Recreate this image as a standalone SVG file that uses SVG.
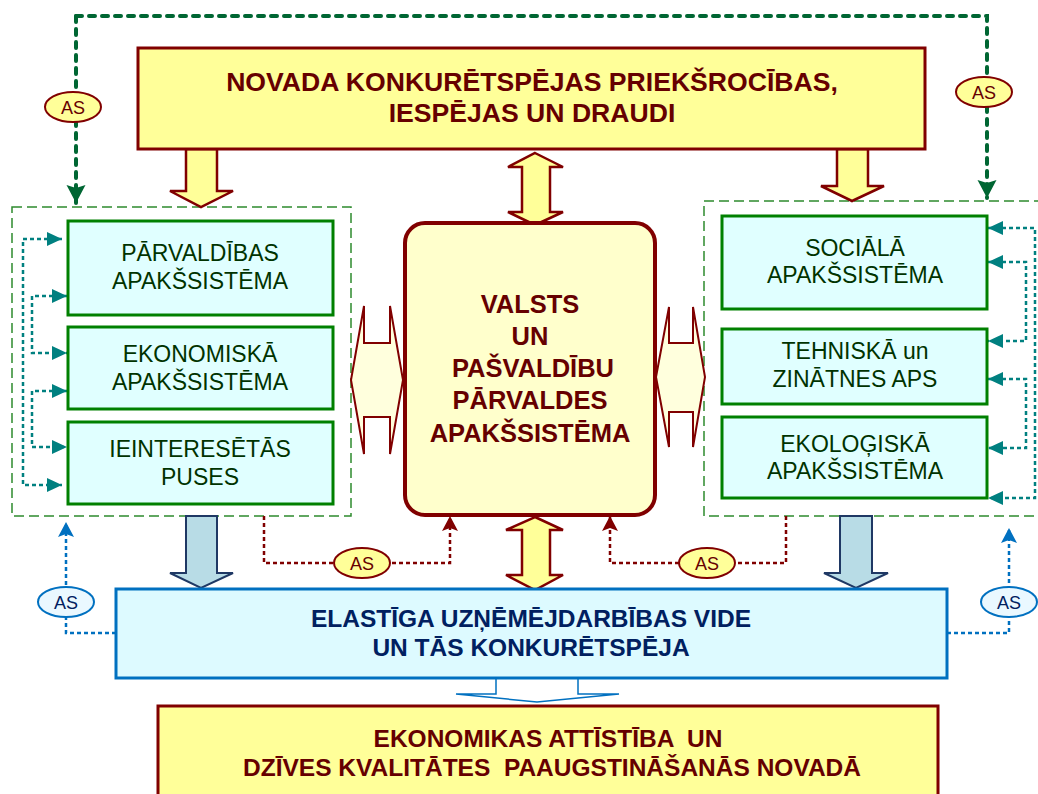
<svg xmlns="http://www.w3.org/2000/svg" width="1038" height="794" viewBox="0 0 1038 794">
<defs>
<style>
text{font-family:"Liberation Sans",Arial,sans-serif;text-anchor:middle;white-space:pre}
.ty{fill:#FFFF99;stroke:#800000;stroke-width:3}
.tt{font-weight:bold;font-size:26.6px;fill:#660000}
.tc{font-weight:bold;font-size:25.5px;fill:#660000}
.tb{font-weight:bold;font-size:24.5px;fill:#002060}
.tbot{font-weight:bold;font-size:24.5px;fill:#660000}
.sub{fill:#E0FFFF;stroke:#008000;stroke-width:3}
.ts{font-size:23px;fill:#003300}
.cont{fill:none;stroke:#2E8B2E;stroke-width:1.5;stroke-dasharray:10,5}
.dy{fill:#FFFF99;stroke:#800000;stroke-width:2.5}
.hz{fill:#FFFFDD;stroke:#800000;stroke-width:2}
.bl{fill:#B8DCE6;stroke:#1F3864;stroke-width:2}
.teal{fill:none;stroke:#008080;stroke-width:2.5;stroke-dasharray:4,3}
.red{fill:none;stroke:#800000;stroke-width:2.5;stroke-dasharray:4,3}
.blue{fill:none;stroke:#0070C0;stroke-width:2.5;stroke-dasharray:4,3}
.green{fill:none;stroke:#006633;stroke-width:4;stroke-dasharray:6,7;stroke-linecap:round}
.asy{fill:#FFFF99;stroke:#800000;stroke-width:2}
.asb{fill:#EAF8FF;stroke:#0070C0;stroke-width:2}
.tas{font-size:18px;fill:#660000}
.tasb{font-size:18px;fill:#002060}
</style>
<marker id="mTeal" markerUnits="userSpaceOnUse" markerWidth="16" markerHeight="16" refX="15" refY="7" orient="auto-start-reverse"><path d="M0,0 L15,7 L0,14 z" fill="#008080"/></marker>
<marker id="mGreen" markerUnits="userSpaceOnUse" markerWidth="20" markerHeight="20" refX="18" refY="9.5" orient="auto"><path d="M0,0 L18,9.5 L0,19 L3,9.5 z" fill="#006633"/></marker>
<marker id="mRed" markerUnits="userSpaceOnUse" markerWidth="16" markerHeight="16" refX="15" refY="8" orient="auto"><path d="M0,0 L15,8 L0,16 L3,8 z" fill="#800000"/></marker>
<marker id="mBlue" markerUnits="userSpaceOnUse" markerWidth="16" markerHeight="16" refX="15" refY="8" orient="auto"><path d="M0,0 L15,8 L0,16 L3,8 z" fill="#0070C0"/></marker>
</defs>
<rect width="1038" height="794" fill="#FFFFFF"/>

<g id="containers">
<rect class="cont" x="12" y="207" width="339" height="309"/>
<rect class="cont" x="704" y="201" width="345" height="315"/>
</g>

<g id="connectors">
<path class="green" d="M76,16 V203" marker-end="url(#mGreen)"/>
<path class="green" d="M76,16 H987 V198" marker-end="url(#mGreen)"/>
<path class="teal" d="M62,239 H23 V485 H62" marker-start="url(#mTeal)" marker-end="url(#mTeal)"/>
<path class="teal" d="M67,296 H32 V353 H67" marker-start="url(#mTeal)" marker-end="url(#mTeal)"/>
<path class="teal" d="M67,391 H32 V447 H67" marker-start="url(#mTeal)" marker-end="url(#mTeal)"/>
<path class="teal" d="M988,228 H1035 V498 H988" marker-start="url(#mTeal)" marker-end="url(#mTeal)"/>
<path class="teal" d="M988,262 H1026 V341 H988" marker-start="url(#mTeal)" marker-end="url(#mTeal)"/>
<path class="teal" d="M988,379 H1026 V448 H988" marker-start="url(#mTeal)" marker-end="url(#mTeal)"/>
<path class="red" d="M264,516 V563 H450 V516" marker-end="url(#mRed)"/>
<path class="red" d="M786,516 V563 H610 V516" marker-end="url(#mRed)"/>
<path class="blue" d="M116,633 H66 V522" marker-end="url(#mBlue)"/>
<path class="blue" d="M947,633 H1009 V528" marker-end="url(#mBlue)"/>
<path class="dy" d="M186,149 V191 H170 L201,207 L233,191 H217 V149 z"/>
<path class="dy" d="M837,149 V186 H821 L852,201 L884,186 H868 V149 z"/>
<path class="dy" d="M535,153 L563,167 H550 V212 H563 L535,225 L508,212 H522 V167 H508 z"/>
<path class="dy" d="M535,517 L563,530 H550 V575 H563 L535,590 L506,575 H522 V530 H506 z"/>
<path class="hz" d="M351,380 L364,306 V343 H390 V306 L403,380 L390,454 V417 H364 V454 z"/>
<path class="hz" d="M656,377 L669,307 V343 H693 V307 L705,377 L693,447 V412 H669 V447 z"/>
<path class="bl" d="M186,516 V573 H170 L201,588 L233,573 H217 V516 z"/>
<path class="bl" d="M840,516 V573 H824 L856,588 L888,573 H872 V516 z"/>
<path d="M496,678 V694 H456 L537,702 L619,694 H578 V678" fill="#FFFFFF" stroke="#0070C0" stroke-width="1.5"/>
<g id="as-labels">
<ellipse class="asy" cx="73" cy="107" rx="28" ry="15"/><text class="tas" x="73" y="113.5">AS</text>
<ellipse class="asy" cx="984" cy="92" rx="28" ry="15"/><text class="tas" x="984" y="98.5">AS</text>
<ellipse class="asy" cx="362" cy="563" rx="28" ry="15"/><text class="tas" x="362" y="569.5">AS</text>
<ellipse class="asy" cx="707" cy="563" rx="28" ry="15"/><text class="tas" x="707" y="569.5">AS</text>
<ellipse class="asb" cx="66" cy="602" rx="28" ry="15"/><text class="tasb" x="66" y="608.5">AS</text>
<ellipse class="asb" cx="1009" cy="602" rx="28" ry="15"/><text class="tasb" x="1009" y="608.5">AS</text>
</g>
</g>

<g id="top">
<rect class="ty" x="138" y="48" width="787" height="101"/>
<text class="tt" x="532" y="91">NOVADA KONKURĒTSPĒJAS PRIEKŠROCĪBAS,</text>
<text class="tt" x="532" y="122">IESPĒJAS UN DRAUDI</text>
</g>

<g id="parvaldibas">
<rect class="sub" x="68" y="221" width="265" height="94"/>
<text class="ts" x="200" y="261">PĀRVALDĪBAS</text>
<text class="ts" x="200" y="289">APAKŠSISTĒMA</text>
</g>
<g id="ekonomiska">
<rect class="sub" x="68" y="327" width="265" height="82"/>
<text class="ts" x="200" y="362">EKONOMISKĀ</text>
<text class="ts" x="200" y="390">APAKŠSISTĒMA</text>
</g>
<g id="ieinteresetas">
<rect class="sub" x="68" y="422" width="265" height="82"/>
<text class="ts" x="200" y="457">IEINTERESĒTĀS</text>
<text class="ts" x="200" y="485">PUSES</text>
</g>

<g id="valsts">
<rect x="405" y="223" width="250" height="292" rx="20" fill="#FFFFCC" stroke="#800000" stroke-width="4"/>
<text class="tc" x="530" y="313">VALSTS</text>
<text class="tc" x="530" y="345">UN</text>
<text class="tc" x="533" y="377">PAŠVALDĪBU</text>
<text class="tc" x="530" y="409">PĀRVALDES</text>
<text class="tc" x="530" y="442">APAKŠSISTĒMA</text>
</g>

<g id="sociala">
<rect class="sub" x="722" y="216" width="265" height="93"/>
<text class="ts" x="855" y="256">SOCIĀLĀ</text>
<text class="ts" x="855" y="283">APAKŠSISTĒMA</text>
</g>
<g id="tehniska">
<rect class="sub" x="722" y="329" width="265" height="75"/>
<text class="ts" x="855" y="359">TEHNISKĀ un</text>
<text class="ts" x="855" y="387">ZINĀTNES APS</text>
</g>
<g id="ekologiska">
<rect class="sub" x="722" y="417" width="265" height="81"/>
<text class="ts" x="855" y="452">EKOLOĢISKĀ</text>
<text class="ts" x="855" y="479">APAKŠSISTĒMA</text>
</g>

<g id="vide">
<rect x="116" y="589" width="831" height="89" fill="#DDFAFF" stroke="#0070C0" stroke-width="3"/>
<text class="tb" x="531" y="627">ELASTĪGA UZŅĒMĒJDARBĪBAS VIDE</text>
<text class="tb" x="531" y="656">UN TĀS KONKURĒTSPĒJA</text>
</g>

<g id="attistiba">
<rect class="ty" x="158" y="706" width="780" height="100"/>
<text class="tbot" x="548" y="747">EKONOMIKAS ATTĪSTĪBA  UN</text>
<text class="tbot" x="552" y="776">DZĪVES KVALITĀTES  PAAUGSTINĀŠANĀS NOVADĀ</text>
</g>
</svg>
